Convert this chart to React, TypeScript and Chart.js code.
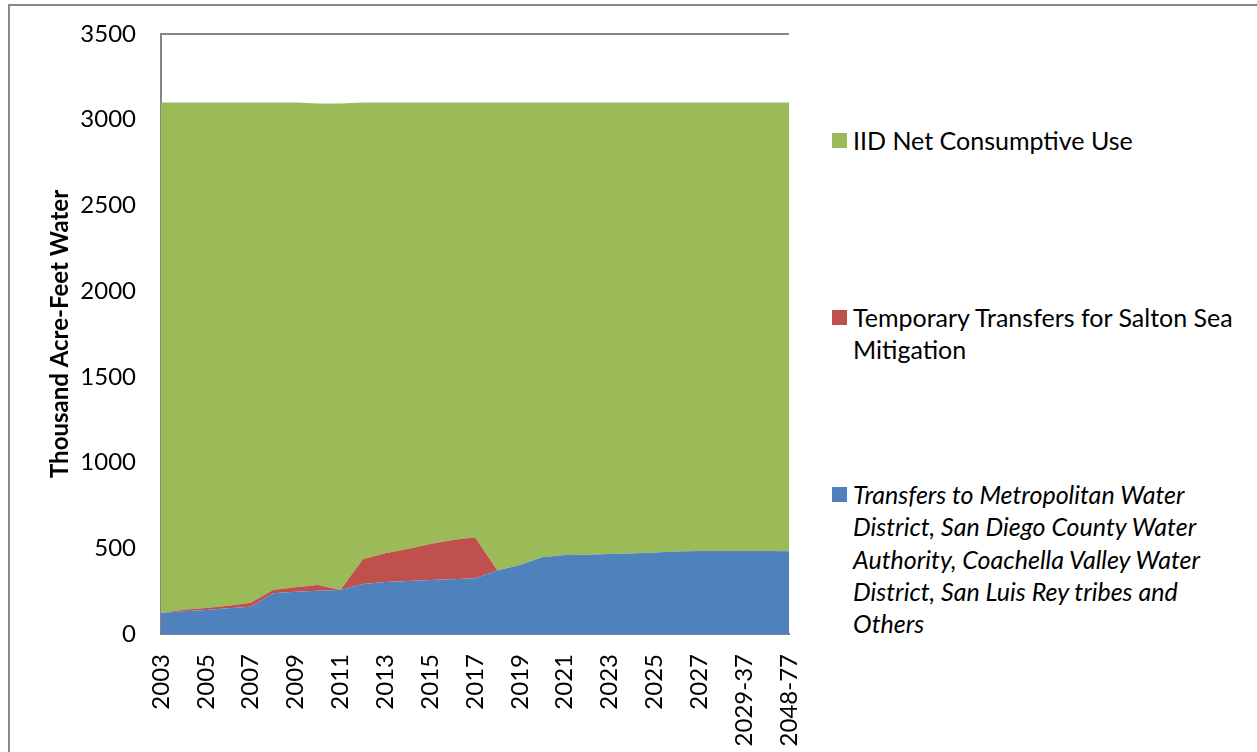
import React, { useEffect, useRef } from "react";
import { Chart, registerables } from "chart.js";

Chart.register(...registerables);

const categories = [
  "2003", "2004", "2005", "2006", "2007", "2008", "2009", "2010", "2011", "2012",
  "2013", "2014", "2015", "2016", "2017", "2018", "2019", "2020", "2021", "2022",
  "2023", "2024", "2025", "2026", "2027", "2028", "2029-37", "2038-47", "2048-77",
];

const transfersToAgencies = [
  122, 132, 140, 150, 159, 237, 247, 253, 257, 292,
  303, 309, 315, 319, 325, 371, 403, 447, 461, 462,
  466, 470, 476, 481, 484, 484, 484, 484, 482,
];

const saltonSeaTransfers = [
  0, 10, 12, 15, 24, 20, 25, 33, 0, 144,
  168, 187, 210, 229, 239, 0, 0, 0, 0, 0,
  0, 0, 0, 0, 0, 0, 0, 0, 0,
];

const iidNetUse = [
  2978, 2958, 2948, 2935, 2917, 2843, 2828, 2809, 2838, 2664,
  2629, 2604, 2575, 2552, 2536, 2729, 2697, 2653, 2639, 2638,
  2634, 2630, 2624, 2619, 2616, 2616, 2616, 2616, 2618,
];

const yTicks = [0, 500, 1000, 1500, 2000, 2500, 3000, 3500];

const FONT = "Lato, 'Open Sans', sans-serif";
const AXIS_GRAY = "#868686";

export default function App() {
  const canvasRef = useRef<HTMLCanvasElement | null>(null);

  useEffect(() => {
    const canvas = canvasRef.current;
    if (!canvas) return;
    const chart = new Chart(canvas, {
      type: "line",
      data: {
        labels: categories,
        datasets: [
          {
            label: "Transfers",
            data: transfersToAgencies,
            backgroundColor: "#4F81BD",
            borderColor: "#4F81BD",
            borderWidth: 0,
            pointRadius: 0,
            fill: "origin",
            tension: 0,
          },
          {
            label: "Temporary",
            data: saltonSeaTransfers,
            backgroundColor: "#C0504D",
            borderColor: "#C0504D",
            borderWidth: 0,
            pointRadius: 0,
            fill: "-1",
            tension: 0,
          },
          {
            label: "IID",
            data: iidNetUse,
            backgroundColor: "#9BBB59",
            borderColor: "#9BBB59",
            borderWidth: 0,
            pointRadius: 0,
            fill: "-1",
            tension: 0,
          },
        ],
      },
      options: {
        responsive: false,
        animation: false,
        layout: { padding: { top: 28, right: 15, left: 0, bottom: 0 } },
        plugins: {
          legend: { display: false },
          tooltip: { enabled: false },
          filler: { propagate: false },
        },
        scales: {
          x: {
            offset: false,
            grid: { display: false, drawTicks: false },
            border: { display: true, color: AXIS_GRAY, width: 2 },
            afterFit: (s: any) => {
              s.height = 118;
              s.paddingLeft = 0;
              s.paddingRight = 0;
              s.paddingTop = 0;
              s.paddingBottom = 0;
            },
            ticks: {
              autoSkip: false,
              maxRotation: 90,
              minRotation: 90,
              padding: 20,
              color: "#000",
              font: { family: FONT, size: 24 },
              callback: function (this: any, _v: any, i: number) {
                return i % 2 === 0 ? categories[i] : "";
              },
            },
          },
          y: {
            stacked: true,
            min: 0,
            max: 3500,
            afterFit: (s: any) => {
              s.width = 151;
              s.paddingLeft = 0;
              s.paddingRight = 0;
              s.paddingTop = 0;
              s.paddingBottom = 0;
            },
            afterBuildTicks: (s: any) => {
              s.ticks = yTicks.map((v) => ({ value: v }));
            },
            grid: {
              display: true,
              drawTicks: false,
              lineWidth: 2,
              color: (ctx: any) =>
                ctx.tick && ctx.tick.value === 3500 ? AXIS_GRAY : "rgba(0,0,0,0)",
            },
            border: { display: true, color: AXIS_GRAY, width: 2 },
            ticks: {
              padding: 25,
              color: "#000",
              font: { family: FONT, size: 24 },
              callback: (v: any) => String(v),
            },
            title: {
              display: true,
              text: "Thousand Acre-Feet Water",
              color: "#000",
              font: { family: FONT, size: 24, weight: "bold" },
              padding: { top: 36, bottom: 0 },
            },
          },
        },
      },
    });
    return () => chart.destroy();
  }, []);

  const textStyle: React.CSSProperties = {
    position: "absolute",
    left: 853,
    fontFamily: FONT,
    fontSize: 25,
    lineHeight: "32.3px",
    color: "#000",
    whiteSpace: "nowrap",
  };
  const sq = (top: number, color: string): React.CSSProperties => ({
    position: "absolute",
    left: 832,
    top,
    width: 15,
    height: 15,
    background: color,
  });

  return (
    <div
      style={{
        position: "fixed",
        left: 0,
        top: 0,
        width: 1257,
        height: 752,
        background: "#fff",
        overflow: "hidden",
      }}
    >
      <div
        style={{
          position: "absolute",
          left: 8,
          top: 4,
          width: 1300,
          height: 800,
          borderLeft: "2px solid #888",
          borderTop: "2px solid #888",
        }}
      />
      <canvas
        ref={canvasRef}
        width={794}
        height={746}
        style={{ position: "absolute", left: 10, top: 6 }}
      />
      <div style={sq(133, "#9BBB59")} />
      <div style={{ ...textStyle, top: 124 }}>IID Net Consumptive Use</div>
      <div style={sq(310, "#C0504D")} />
      <div style={{ ...textStyle, top: 301 }}>
        Temporary Transfers for Salton Sea
        <br />
        Mitigation
      </div>
      <div style={sq(487, "#4F81BD")} />
      <div style={{ ...textStyle, top: 478, fontStyle: "italic" }}>
        Transfers to Metropolitan Water
        <br />
        District, San Diego County Water
        <br />
        Authority, Coachella Valley Water
        <br />
        District, San Luis Rey tribes and
        <br />
        Others
      </div>
    </div>
  );
}
